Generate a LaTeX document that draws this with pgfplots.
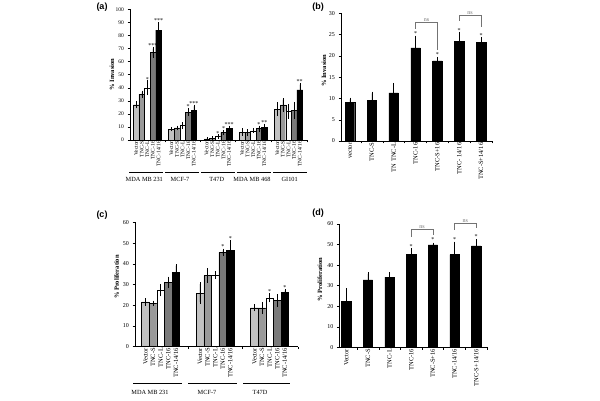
\documentclass[border=0pt]{standalone}
\usepackage{pgfplots}
\pgfplotsset{compat=1.18}
\usepackage{fontspec}
\setmainfont{Liberation Serif}
\newfontfamily\panelfont{Liberation Sans}
\definecolor{cVec}{gray}{0.76}
\definecolor{cS}{gray}{0.60}
\definecolor{cL}{gray}{1}
\definecolor{cSix}{gray}{0.48}
\definecolor{cFour}{gray}{0}
\definecolor{brk}{gray}{0.45}
\newcommand{\fs}[1]{\fontsize{#1}{#1}\selectfont}
\pgfplotsset{
  base/.style={
    scale only axis, axis x line*=bottom, axis y line*=left,
    tick align=outside, major tick length=2.5pt,
    ymin=0, clip=false,
    /pgf/number format/assume math mode=true,
    every tick/.style={black, line width=0.4pt},
    axis line style={line width=0.5pt, -},
    ybar,
    error bars/error bar style={line width=0.4pt, black},
    error bars/error mark options={mark size=1.6pt, line width=0.4pt, black},
    ylabel style={font=\bfseries\fs{6.5}, anchor=center},
  },
  mybar/.style={fill=#1, draw=black, line width=0.4pt, bar shift=0pt,
    error bars/.cd, y dir=both, y explicit},
  bbar/.style={fill=black, draw=black, line width=0.4pt, bar shift=0pt,
    error bars/.cd, y dir=plus, y explicit},
}
\newcommand{\st}[3]{\node[font=\fs{6}, anchor=south, inner sep=0.6pt] at (axis cs:#1,#2) {#3};}
\begin{document}
\begin{tikzpicture}[x=1pt,y=1pt]
\path[use as bounding box] (0,0) rectangle (600,401);

% ---------------- (a)
\begin{axis}[base, at={(130pt,261pt)}, anchor=south west, width=177pt, height=130.7pt,
  xmin=-1.09, xmax=30.5, ymax=100, ytick={0,10,...,100},
  yticklabel style={font=\fs{5.5}},
  bar width=5.6pt,
  xtick={5.15,11.45,17.75,24.05,30.5}, xticklabels={},
  extra x ticks={0,1,2,3,4,6.3,7.3,8.3,9.3,10.3,12.6,13.6,14.6,15.6,16.6,18.9,19.9,20.9,21.9,22.9,25.2,26.2,27.2,28.2,29.2},
  extra x tick labels={Vector,TNC-S,TNC-L,TNC-16,TNC-14/16,Vector,TNC-S,TNC-L,TNC-16,TNC-14/16,Vector,TNC-S,TNC-L,TNC-16,TNC-14/16,Vector,TNC-S,TNC-L,TNC-16,TNC-14/16,Vector,TNC-S,TNC-L,TNC-16,TNC-14/16},
  extra x tick style={major tick length=0pt, xticklabel style={rotate=90, anchor=east, font=\fs{5.5}, inner sep=1pt}},
  ylabel={\% Invasion}, ylabel style={at={(axis description cs:-0.1017,0.5)}},
]
\addplot[mybar=cVec] coordinates {(0,27) +- (0,1.5) (6.3,8.4) +- (0,0.5) (12.6,0.8) +- (0,0.2) (18.9,6.1) +- (0,1.5) (25.2,23.5) +- (0,4)};
\addplot[mybar=cS] coordinates {(1,35) +- (0,1.5) (7.3,9.2) +- (0,0.6) (13.6,1.3) +- (0,0.3) (19.9,5.6) +- (0,1.5) (26.2,26.8) +- (0,4)};
\addplot[mybar=cL] coordinates {(2,40) +- (0,4.5) (8.3,11) +- (0,1.5) (14.6,2.6) +- (0,0.5) (20.9,7.1) +- (0,0.5) (27.2,22) +- (0,4.5)};
\addplot[mybar=cSix] coordinates {(3,67) +- (0,3) (9.3,21.4) +- (0,2) (15.6,5.9) +- (0,0.6) (21.9,8.7) +- (0,1) (28.2,22.5) +- (0,5.5)};
\addplot[mybar=cFour] coordinates {(4,84) +- (0,5) (10.3,22.8) +- (0,3) (16.6,8.7) +- (0,1) (22.9,9.6) +- (0,1.5) (29.2,38.4) +- (0,4)};
\st{2}{44.5}{*}
\st{3}{70}{***}
\st{4}{89}{***}
\st{9.3}{23.4}{*}
\st{10.3}{25.8}{***}
\st{14.6}{3.1}{*}
\st{15.6}{6.5}{*}
\st{16.6}{9.7}{***}
\st{21.9}{9.7}{*}
\st{22.9}{11.1}{**}
\st{29.2}{42.4}{**}
\end{axis}

% ---------------- (b)
\begin{axis}[base, at={(341pt,260pt)}, anchor=south west, width=151pt, height=127.7pt,
  xmin=-0.41, xmax=6.5, ymax=30, ytick={0,5,...,30},
  yticklabel style={font=\fs{6}},
  bar width=9.5pt,
  xtick={0.5,1.5,...,6.5}, xticklabels={},
  extra x ticks={0,1,2,3,4,5,6},
  extra x tick labels={vector,TNC-S,TN TNC-L,TNC-16,TNC-S+16,TNC- 14/16,TNC-S+14/16},
  extra x tick style={major tick length=0pt, xticklabel style={rotate=90, anchor=east, font=\fs{6.5}, inner sep=1.5pt}},
  ylabel={\% Invasion}, ylabel style={at={(axis description cs:-0.113,0.55)}},
]
\addplot[bbar] coordinates {(0,9) +- (0,0.8) (1,9.6) +- (0,1.6) (2,11.3) +- (0,2) (3,21.9) +- (0,2.5) (4,18.8) +- (0,0.6) (5,23.4) +- (0,1.9) (6,23.1) +- (0,1)};
\st{3}{24.5}{*}
\st{4}{19.6}{*}
\st{5}{25.4}{*}
\st{6}{24.2}{*}
\draw[brk, line width=0.5pt] (axis cs:3,26.4) -- (axis cs:3,27.8) -- (axis cs:4,27.8) -- (axis cs:4,21.3);
\node[font=\fs{6}, brk, anchor=south, inner sep=0.5pt] at (axis cs:3.5,27.8) {ns};
\draw[brk, line width=0.5pt] (axis cs:5,28.2) -- (axis cs:5,29.5) -- (axis cs:6,29.5) -- (axis cs:6,26.8);
\node[font=\fs{6}, brk, anchor=south, inner sep=0.5pt] at (axis cs:5.5,29.5) {ns};
\end{axis}

% ---------------- (c)
\begin{axis}[base, at={(135pt,54.3pt)}, anchor=south west, width=163pt, height=124.4pt,
  xmin=-1.38, xmax=20.07, ymax=60, ytick={0,10,...,60},
  yticklabel style={font=\fs{6}},
  bar width=7.6pt,
  xtick={5.58,12.75,20.07}, xticklabels={},
  extra x ticks={0,1,2,3,4,7.17,8.17,9.17,10.17,11.17,14.34,15.34,16.34,17.34,18.34},
  extra x tick labels={Vector,TNC-S,TNC-L,TNC-16,TNC-14/16,Vector,TNC-S,TNC-L,TNC-16,TNC-14/16,Vector,TNC-S,TNC-L,TNC-16,TNC-14/16},
  extra x tick style={major tick length=0pt, xticklabel style={rotate=90, anchor=east, font=\fs{6.5}, inner sep=1pt}},
  ylabel={\% Proliferation}, ylabel style={at={(axis description cs:-0.112,0.56)}},
]
\addplot[mybar=cVec] coordinates {(0,21.6) +- (0,1) (7.17,25.9) +- (0,4.3) (14.34,18.8) +- (0,1)};
\addplot[mybar=cS] coordinates {(1,20.9) +- (0,0.5) (8.17,34.3) +- (0,2.8) (15.34,18.7) +- (0,2.2)};
\addplot[mybar=cL] coordinates {(2,27.3) +- (0,2.2) (9.17,34.6) +- (0,1) (16.34,23.6) +- (0,1.5)};
\addplot[mybar=cSix] coordinates {(3,31) +- (0,2) (10.17,45.5) +- (0,1) (17.34,22.2) +- (0,2.4)};
\addplot[mybar=cFour] coordinates {(4,36) +- (0,3.1) (11.17,46.6) +- (0,4) (18.34,26.2) +- (0,0.8)};
\st{10.17}{46.8}{*}
\st{11.17}{50.8}{*}
\st{16.34}{25.3}{*}
\st{18.34}{27.2}{*}
\end{axis}

% ---------------- (d)
\begin{axis}[base, at={(339.3pt,53.7pt)}, anchor=south west, width=147.7pt, height=123.3pt,
  xmin=-0.32, xmax=6.5, ymax=60, ytick={0,10,...,60},
  yticklabel style={font=\fs{6}},
  bar width=9.5pt,
  xtick={0.5,1.5,...,6.5}, xticklabels={},
  extra x ticks={0,1,2,3,4,5,6},
  extra x tick labels={Vector,TNC-S,TNC-L,TNC-16,TNC-S+16,TNC-14/16,TNC-S+14/16},
  extra x tick style={major tick length=0pt, xticklabel style={rotate=90, anchor=east, font=\fs{6.5}, inner sep=1.5pt}},
  ylabel={\% Proliferation}, ylabel style={at={(axis description cs:-0.131,0.55)}},
]
\addplot[bbar] coordinates {(0,22.5) +- (0,5.4) (1,32.8) +- (0,2.9) (2,34.1) +- (0,1.6) (3,45.4) +- (0,1.9) (4,49.8) +- (0,0.3) (5,45.1) +- (0,5.5) (6,49.4) +- (0,2.3)};
\st{3}{47.6}{*}
\st{4}{51.2}{*}
\st{5}{51.2}{*}
\st{6}{52.6}{*}
\draw[brk, line width=0.5pt] (axis cs:3,53.8) -- (axis cs:3,57.4) -- (axis cs:4,57.4) -- (axis cs:4,54.6);
\node[font=\fs{6}, brk, anchor=south, inner sep=0.5pt] at (axis cs:3.5,57.4) {ns};
\draw[brk, line width=0.5pt] (axis cs:5,57.1) -- (axis cs:5,60.3) -- (axis cs:6,60.3) -- (axis cs:6,57.9);
\node[font=\fs{6}, brk, anchor=south, inner sep=0.5pt] at (axis cs:5.5,60.3) {ns};
\end{axis}

% group lines and labels (a)
\begin{scope}[line width=0.5pt]
\draw (129.3,228.3) -- (162.7,228.3);
\draw (165,228.3) -- (198.7,228.3);
\draw (201,228.3) -- (235,228.3);
\draw (236.7,228.3) -- (271,228.3);
\draw (273.3,228.3) -- (306.7,228.3);
\draw (133.3,18) -- (181.7,18);
\draw (188.3,18) -- (236.7,18);
\draw (243.3,18) -- (290,18);
\end{scope}
\begin{scope}[every node/.style={font=\fs{6.3}, inner sep=0pt}]
\node at (144.3,221.7) {MDA MB 231};
\node at (180,221.7) {MCF-7};
\node at (216.7,221.7) {T47D};
\node at (252,221.7) {MDA MB 468};
\node at (289.7,221.7) {GI101};
\node at (150,9) {MDA MB 231};
\node at (207,9) {MCF-7};
\node at (260,9) {T47D};
\end{scope}
\begin{scope}[every node/.style={font=\panelfont\bfseries\fs{9}, inner sep=0pt}]
\node at (102,394) {(a)};
\node at (318,394) {(b)};
\node at (102,186) {(c)};
\node at (318,188) {(d)};
\end{scope}
\end{tikzpicture}
\end{document}
